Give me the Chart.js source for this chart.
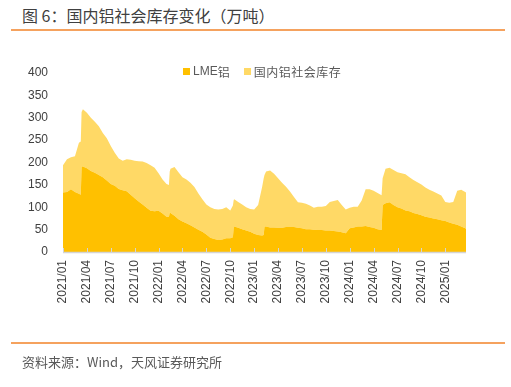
<!DOCTYPE html>
<html><head><meta charset="utf-8">
<script src="https://cdn.jsdelivr.net/npm/chart.js@4"></script>
<style>
html,body{margin:0;padding:0;background:#fff;}
#wrap{position:relative;width:511px;height:387px;overflow:hidden;font-family:"Noto Sans CJK SC",sans-serif;}
#c{position:absolute;left:0;top:0;}
#title{position:absolute;left:22px;top:5px;font-size:16px;line-height:20px;color:#404040;white-space:nowrap;}
.rule{position:absolute;left:11px;width:494px;height:2px;background:#F5A25E;}
#src{position:absolute;left:22px;top:353px;font-size:13px;line-height:18px;color:#595959;white-space:nowrap;}
#legend{position:absolute;top:63px;left:183px;height:16px;display:flex;align-items:center;font-size:12px;color:#595959;white-space:nowrap;}
#legend .sq{display:inline-block;width:7px;height:7px;margin-right:3px;}
#legend .it{display:flex;align-items:center;}
</style></head>
<body><div id="wrap">
<div id="title">图 6：国内铝社会库存变化（万吨）</div>
<div class="rule" style="top:29px"></div>
<canvas id="c" width="511" height="387"></canvas>
<div id="legend">
  <span class="it"><span class="sq" style="background:#FFC000"></span><span style="font-family:'Liberation Sans',sans-serif">LME</span><span>铝</span></span>
  <span class="it" style="margin-left:14px"><span class="sq" style="background:#FFD966"></span><span style="letter-spacing:0.5px">国内铝社会库存</span></span>
</div>
<div class="rule" style="top:342px"></div>
<div id="src">资料来源：Wind，天风证券研究所</div>
</div>
<script>
// Observation dates
const dates = [
"2021-01-01","2021-01-16","2021-02-01","2021-02-16","2021-03-01","2021-03-08","2021-03-11","2021-03-16",
"2021-04-01","2021-04-16","2021-05-01","2021-05-16","2021-06-01","2021-06-16","2021-07-01","2021-07-16",
"2021-08-01","2021-08-16","2021-09-01","2021-09-16","2021-10-01","2021-10-16","2021-11-01","2021-11-16",
"2021-12-01","2021-12-16","2022-01-01","2022-01-16","2022-02-01","2022-02-10","2022-02-13","2022-02-16",
"2022-03-01","2022-03-16","2022-04-01","2022-04-16","2022-05-01","2022-05-16","2022-06-01","2022-06-16",
"2022-07-01","2022-07-16","2022-08-01","2022-08-16","2022-09-01","2022-09-16","2022-10-01","2022-10-11",
"2022-10-14","2022-10-16","2022-11-01","2022-11-16","2022-12-01","2022-12-16","2023-01-01","2023-01-16",
"2023-02-01","2023-02-07","2023-02-10","2023-02-16","2023-03-01","2023-03-16","2023-04-01","2023-04-16",
"2023-05-01","2023-05-16","2023-06-01","2023-06-16","2023-07-01","2023-07-16","2023-08-01","2023-08-16",
"2023-09-01","2023-09-16","2023-10-01","2023-10-16","2023-11-01","2023-11-16","2023-12-01","2023-12-16",
"2024-01-01","2024-01-16","2024-02-01","2024-02-16","2024-03-01","2024-03-16","2024-04-01","2024-04-16",
"2024-05-01","2024-05-05","2024-05-16","2024-06-01","2024-06-16","2024-07-01","2024-07-16","2024-08-01",
"2024-08-16","2024-09-01","2024-09-16","2024-10-01","2024-10-16","2024-11-01","2024-11-16","2024-12-01",
"2024-12-16","2025-01-01","2025-01-16","2025-02-01","2025-02-16","2025-03-01","2025-03-16","2025-03-19"];
// LME铝 (万吨)
const lme = [
133,134,140,134,130,128,191,191, 187,181,177,172,167,160,152,148,
141,138,136,128,120,113,106,99, 92,91,92,86,79,78,88,87,
81,73,68,64,60,55,50,45, 39,32,29,27,28,31,31,33,
56,57,54,51,48,45,41,38, 37,38,57,57,55,55,54,54,
56,56,56,54,53,51,51,50, 49,49,48,48,47,46,44,42,
53,55,57,57,58,56,54,51, 49,105,109,111,105,100,97,93,
91,87,85,82,79,77,75,73, 71,69,66,63,61,57,53,52];
// 国内铝社会库存 (万吨)
const domestic = [
61,73,72,80,114,119,122,128, 124,119,114,109,99,94,85,74,
68,66,71,78,84,90,96,100, 102,97,84,76,73,72,92,99,
109,105,99,98,95,90,81,73, 67,68,67,68,68,69,62,71,
60,61,58,55,52,51,54,67, 108,127,115,123,127,120,111,101,
90,79,67,57,57,57,53,49, 52,52,55,64,67,70,61,53,
46,46,44,58,82,84,83,81, 78,60,77,77,78,78,79,81,
76,74,71,69,65,62,60,58, 55,43,44,49,76,82,81,81];
// Axis settings
const yTicks = [0,50,100,150,200,250,300,350,400];
const xTickStepMonths = 3;

function monthsSince2021(s){
  const [Y,M,D] = s.split('-').map(Number);
  return (Y-2021)*12 + (M-1) + (D-1)/30;
}
const xs = dates.map(monthsSince2021);
const lmePts = xs.map((x,i)=>({x, y: lme[i]}));
const domPts = xs.map((x,i)=>({x, y: domestic[i]}));

const innerTicks = {
  id:'innerTicks',
  afterDatasetsDraw(chart){
    const s = chart.scales.x, ctx = chart.ctx, b = chart.chartArea.bottom;
    ctx.save();
    ctx.strokeStyle = '#d4d4d4'; ctx.lineWidth = 1;
    s.ticks.forEach(t=>{
      const px = Math.round(s.getPixelForValue(t.value)) + 0.5;
      ctx.beginPath(); ctx.moveTo(px, b); ctx.lineTo(px, b-4); ctx.stroke();
    });
    ctx.beginPath(); ctx.strokeStyle='#d4d4d4'; ctx.lineWidth=1.5;
    ctx.moveTo(chart.chartArea.left, b+0.5); ctx.lineTo(chart.chartArea.right, b+0.5); ctx.stroke();
    ctx.restore();
  }
};

new Chart(document.getElementById('c'), {
  type:'line',
  data:{ datasets:[
    {label:'LME铝', data:lmePts, backgroundColor:'#FFC000', borderWidth:0, pointRadius:0, fill:'origin', tension:0},
    {label:'国内铝社会库存', data:domPts, backgroundColor:'#FFD966', borderWidth:0, pointRadius:0, fill:'-1', tension:0}
  ]},
  options:{
    responsive:false, animation:false, devicePixelRatio:1,
    layout:{padding:{left:28, right:45, top:73, bottom:75}},
    plugins:{legend:{display:false}, tooltip:{enabled:false}},
    scales:{
      x:{type:'linear', min:0, max:xs[xs.length-1],
        grid:{display:false, drawTicks:false}, border:{display:false},
        afterFit:s=>{s.height=60;},
        ticks:{stepSize:xTickStepMonths, includeBounds:false, autoSkip:false, minRotation:90, maxRotation:90, padding:8,
          color:'#404040', font:{family:'Liberation Sans', size:12},
          callback:v=>{const y=2021+Math.floor(v/12), m=(v%12)+1; return y+'/'+String(m).padStart(2,'0');}}
      },
      y:{stacked:true, min:0, max:400,
        grid:{display:false, drawTicks:false}, border:{display:false},
        afterFit:s=>{s.width=35;},
        afterBuildTicks:s=>{s.ticks=yTicks.map(v=>({value:v}));},
        ticks:{padding:15, color:'#404040', font:{family:'Liberation Sans', size:12}}
      }
    }
  },
  plugins:[innerTicks]
});
</script>
</body></html>
